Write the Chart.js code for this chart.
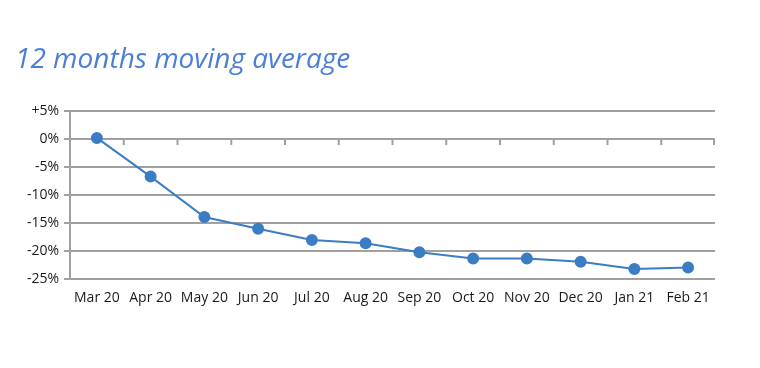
<!DOCTYPE html>
<html>
<head>
<meta charset="utf-8">
<script src="https://cdn.jsdelivr.net/npm/chart.js@4.4.1/dist/chart.umd.min.js"></script>
<style>
  html, body { margin: 0; padding: 0; background: #fff; }
  #wrap { width: 760px; height: 368px; position: relative; }
  #title {
    position: absolute; left: 15px; top: 38px;
    font-family: "Open Sans", sans-serif; font-style: italic;
    font-size: 28px; color: #4a7fd8; white-space: nowrap;
  }
</style>
</head>
<body>
<div id="wrap">
  <div id="title">12 months moving average</div>
  <canvas id="chart" width="760" height="368"></canvas>
</div>
<script>
// month labels along the bottom
const months = ["Mar 20", "Apr 20", "May 20", "Jun 20", "Jul 20", "Aug 20",
                "Sep 20", "Oct 20", "Nov 20", "Dec 20", "Jan 21", "Feb 21"];
// 12 months moving average, in %
const movingAvg = [0.2, -6.7, -13.9, -16.0, -18.0, -18.6, -20.2, -21.3, -21.3, -21.9, -23.2, -22.9];
// y axis tick labels
const yTicks = [5, 0, -5, -10, -15, -20, -25];

const gridGray = "#a0a0a0";
const lineBlue = "#3b7dc4";

// little tick marks on the 0% line, between the months
const zeroTicks = {
    id: "zeroTicks",
    afterDatasetsDraw(chart) {
        const x = chart.scales.x, y = chart.scales.y;
        const y0 = y.getPixelForValue(0);
        const c = chart.ctx;
        c.save();
        c.strokeStyle = gridGray;
        c.lineWidth = 2;
        for (let i = 0; i < months.length; i++) {
            const px = i < months.length - 1
                ? (x.getPixelForValue(i) + x.getPixelForValue(i + 1)) / 2
                : chart.chartArea.right - 1;
            c.beginPath();
            c.moveTo(px, y0);
            c.lineTo(px, y0 + 6);
            c.stroke();
        }
        c.restore();
    }
};

document.addEventListener("DOMContentLoaded", function () {
    const ctx = document.getElementById("chart").getContext("2d");
    new Chart(ctx, {
        type: "line",
        data: {
            labels: months,
            datasets: [{
                data: movingAvg,
                borderColor: lineBlue,
                backgroundColor: lineBlue,
                borderWidth: 2,
                pointRadius: 5,
                pointHoverRadius: 5,
                tension: 0
            }]
        },
        options: {
            responsive: false,
            animation: false,
            layout: { padding: { left: 0, right: 45, top: 111, bottom: 52 } },
            plugins: { legend: { display: false }, tooltip: { enabled: false } },
            scales: {
                x: {
                    offset: true,
                    grid: { display: false, drawTicks: false },
                    border: { display: false },
                    ticks: {
                        color: "#1a1a1a",
                        padding: 10,
                        maxRotation: 0,
                        font: { family: "Open Sans", size: 14 }
                    }
                },
                y: {
                    min: -25,
                    max: 5,
                    afterFit(scale) { scale.width = 70; },
                    afterBuildTicks(scale) { scale.ticks = yTicks.map(v => ({ value: v })); },
                    grid: { color: gridGray, lineWidth: 2, tickLength: 6 },
                    border: { color: gridGray, width: 2 },
                    ticks: {
                        color: "#1a1a1a",
                        padding: 5,
                        font: { family: "Open Sans", size: 14 },
                        callback: v => (v > 0 ? "+" : "") + v + "%"
                    }
                }
            }
        },
        plugins: [zeroTicks]
    });
});
</script>
</body>
</html>
